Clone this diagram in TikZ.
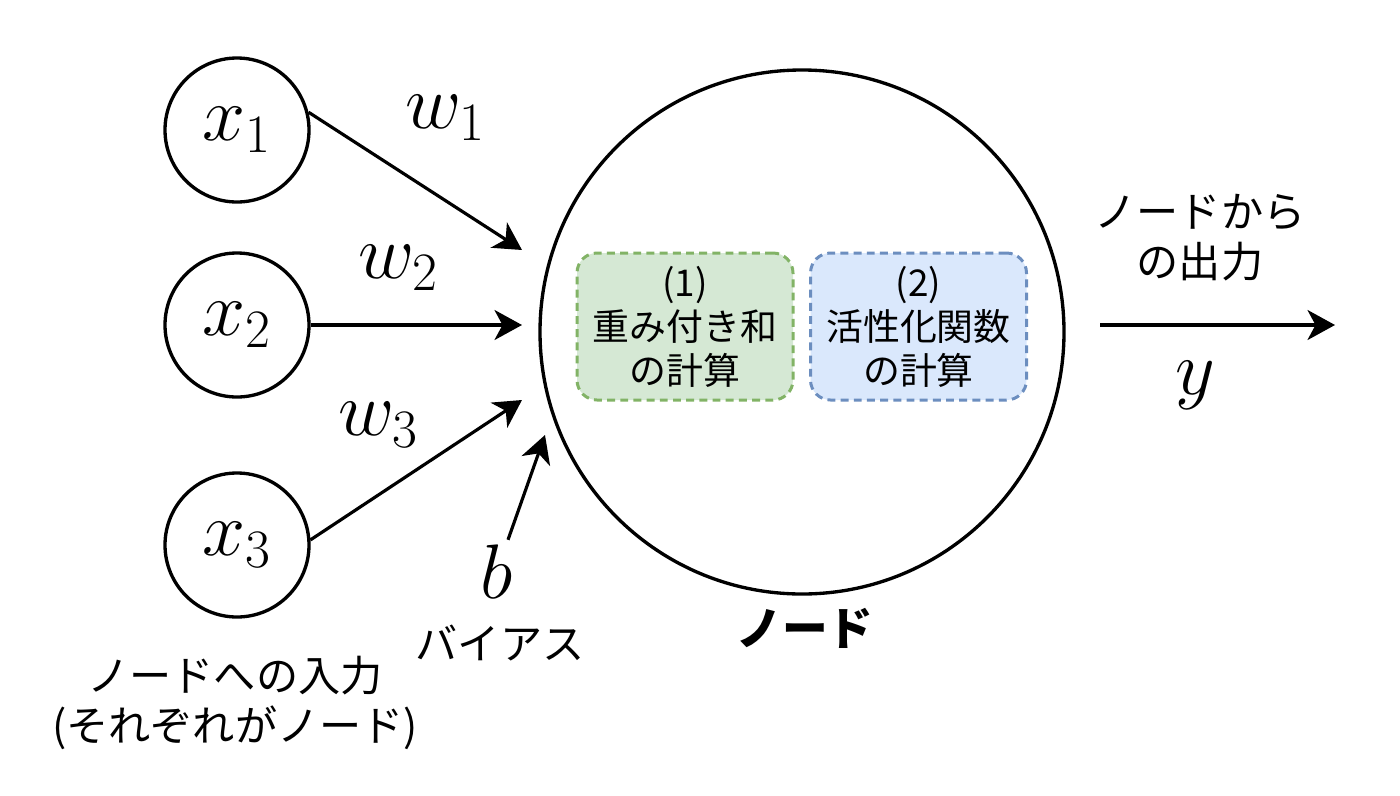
\RequirePackage{fix-cm}
\documentclass[tikz,border=0pt]{standalone}
\usepackage{fontspec}
\newfontfamily\jp{Noto Sans CJK JP}
\usetikzlibrary{positioning,arrows.meta,calc}
\definecolor{grnfill}{HTML}{D5E8D4}
\definecolor{grnline}{HTML}{82B366}
\definecolor{bluefill}{HTML}{DAE8FC}
\definecolor{blueline}{HTML}{6C8EBF}
\tikzset{
  inp/.style={draw, circle, line width=1.9pt, minimum size=2.88cm, inner sep=0pt, font=\fontsize{44}{46}\selectfont},
  neuron/.style={draw, circle, line width=1.9pt, minimum size=10.48cm, inner sep=0pt},
  calc/.style={draw, dashed, dash pattern=on 4.5pt off 3pt, line width=1.7pt, rounded corners=0.4cm, minimum width=4.32cm, minimum height=2.94cm, align=center, font=\jp\fontsize{21}{25}\selectfont},
  wl/.style={font=\fontsize{44}{46}\selectfont, inner sep=0pt},
  jl/.style={font=\jp\fontsize{24}{28.5}\selectfont, align=center, inner sep=0pt},
  fl/.style={-{Stealth[length=5.5mm, width=6mm, inset=1.6mm]}, line width=1.8pt},
}
\begin{document}
\begin{tikzpicture}
\useasboundingbox (0,0) rectangle (28,-15.9);
\node[inp] (x1) at (4.74,-2.6) {$x_1$};
\node[inp] (x2) at (4.74,-6.5) {$x_2$};
\node[inp] (x3) at (4.74,-10.9) {$x_3$};
\node[neuron] (nd) at (16.04,-6.64) {};
\node[calc, fill=grnfill, draw=grnline] (sum) at (13.7,-6.53) {(1)\\重み付き和\\の計算};
\node[calc, fill=bluefill, draw=blueline] (act) at (18.37,-6.53) {(2)\\活性化関数\\の計算};
\coordinate (t1) at (10.44,-5.0);
\coordinate (t2) at (10.44,-6.5);
\coordinate (t3) at (10.44,-8.0);
\coordinate (tb) at (10.9,-8.7);
\coordinate (ys) at (22.0,-6.5);
\coordinate (ye) at (26.7,-6.5);
% weights and bias
\node[wl] (w1) at (8.9,-2.36) {$w_1$};
\node[wl] (w2) at (7.96,-5.36) {$w_2$};
\node[wl] (w3) at (7.56,-8.5) {$w_3$};
\node[wl] (b) at (9.94,-11.44) {$b$};
\node[jl] (bias) at (10.0,-12.86) {バイアス};
\node[jl, font=\jp\bfseries\fontsize{26}{29}\selectfont] (ndl) at (16.1,-12.56) {ノード};
\node[jl] (inl) at (4.7,-14.06) {ノードへの入力\\(それぞれがノード)};
\node[jl] (outl) at (24.0,-4.76) {ノードから\\の出力};
\node[wl] (y) at (23.9,-7.7) {$y$};
\draw[fl] (x1.14) -- (t1);
\draw[fl] (x2) -- (t2);
\draw[fl] (x3.4) -- (t3);
\draw[fl] (b.north) ++(0.22,0.1) -- (tb);
\draw[fl] (ys) -- (ye);
\end{tikzpicture}
\end{document}
